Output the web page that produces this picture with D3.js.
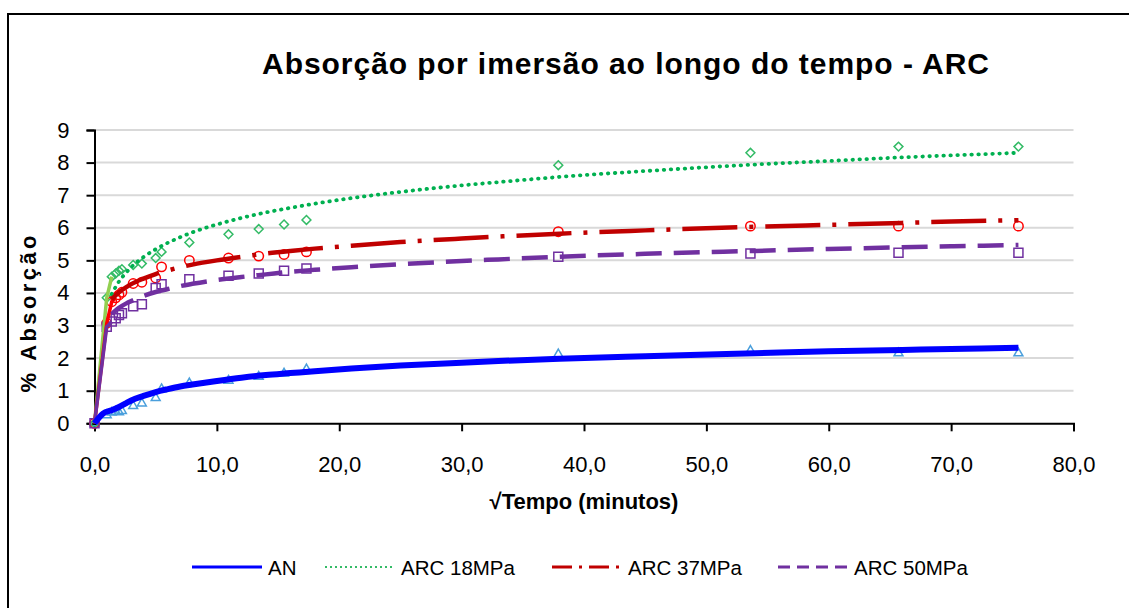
<!DOCTYPE html>
<html><head><meta charset="utf-8">
<script src="https://cdn.jsdelivr.net/npm/d3@7"></script>
<style>body{margin:0;background:#fff;} svg{display:block;font-family:"Liberation Sans",Arial,sans-serif;}</style>
</head><body>
<svg id="c" width="1129" height="608"></svg>
<script>
// ---- data ----
const title = "Absorção por imersão ao longo do tempo - ARC";
const xLabel = "√Tempo (minutos)";
const yLabel = "% Absorção";
const seriesNames = ["AN", "ARC 18MPa", "ARC 37MPa", "ARC 50MPa"];
const xTicks = [0, 10, 20, 30, 40, 50, 60, 70, 80];
const yTicks = [0, 1, 2, 3, 4, 5, 6, 7, 8, 9];

// measured points (x = sqrt of time in minutes)
const markerX = [0, 1, 1.41, 1.73, 2, 2.24, 3.16, 3.87, 5, 5.48, 7.75, 10.95, 13.42, 15.49, 17.32, 37.9, 53.6, 65.7, 75.5];
const anVals    = [0, 0.25, 0.33, 0.36, 0.34, 0.38, 0.53, 0.61, 0.78, 1.05, 1.23, 1.31, 1.43, 1.53, 1.66, 2.12, 2.23, 2.15, 2.15];
const arc18Vals = [0, 3.85, 4.5, 4.6, 4.68, 4.73, 4.86, 4.9, 5.07, 5.26, 5.55, 5.8, 5.96, 6.1, 6.24, 7.92, 8.3, 8.49, 8.49];
const arc37Vals = [0, 3.07, 3.73, 3.85, 3.94, 4.02, 4.29, 4.33, 4.46, 4.8, 5.0, 5.07, 5.13, 5.18, 5.26, 5.88, 6.05, 6.05, 6.05];
const arc50Vals = [0, 2.96, 3.12, 3.22, 3.32, 3.38, 3.59, 3.65, 4.15, 4.27, 4.42, 4.53, 4.6, 4.68, 4.75, 5.11, 5.21, 5.23, 5.23];

// trend curves
const fitX     = [0, 0.7, 1.4, 2, 2.6, 3, 4, 5, 6, 7, 8, 10, 12, 14, 16, 18, 21, 25, 30, 33, 38, 45, 54, 60, 66, 70, 75.5];
const anFit    = [0, 0.3, 0.4, 0.5, 0.62, 0.7, 0.84, 0.96, 1.05, 1.13, 1.19, 1.3, 1.4, 1.48, 1.54, 1.6, 1.68, 1.77, 1.86, 1.91, 1.98, 2.06, 2.15, 2.21, 2.25, 2.28, 2.32];
const arc18Fit = [null, null, 3.96, 4.35, 4.63, 4.79, 5.1, 5.34, 5.54, 5.71, 5.86, 6.1, 6.3, 6.47, 6.61, 6.74, 6.91, 7.1, 7.3, 7.4, 7.56, 7.74, 7.94, 8.05, 8.16, 8.22, 8.3];
const arc37Fit = [null, null, 3.8, 4.02, 4.18, 4.27, 4.44, 4.58, 4.69, 4.79, 4.87, 5.0, 5.11, 5.21, 5.29, 5.36, 5.45, 5.56, 5.67, 5.73, 5.82, 5.92, 6.03, 6.09, 6.15, 6.19, 6.23];
const arc50Fit = [null, null, 3.35, 3.54, 3.68, 3.75, 3.91, 4.03, 4.12, 4.21, 4.28, 4.4, 4.49, 4.57, 4.65, 4.71, 4.79, 4.88, 4.98, 5.03, 5.11, 5.2, 5.29, 5.35, 5.4, 5.43, 5.47];

// ---- styles ----
const series = [
  {name: seriesNames[0], vals: anVals, fit: anFit, early: 0, mk: "#4a9fdc", sym: d3.symbolTriangle, size: 34,
   line: "#0000ff", lw: 6, dash: null, lgw: 3, lgdash: null, lgcol: "#0000ff", earlyCol: "#0000ff"},
  {name: seriesNames[1], vals: arc18Vals, fit: arc18Fit, early: 3, mk: "#33bb66", sym: d3.symbolDiamond2, size: 50,
   line: "#00b050", lw: 3.8, dash: "0.5,6.5", cap: "round", lgw: 2, lgdash: "2,3", lgcol: "#33bb66", earlyCol: "#92d050"},
  {name: seriesNames[2], vals: arc37Vals, fit: arc37Fit, early: 4, mk: "#ff0000", sym: d3.symbolCircle, size: 70,
   line: "#c00000", lw: 4.5, dash: "55,12,4,12", lgw: 3, lgdash: "20,7,3,7", lgcol: "#c00000", earlyCol: "#ff0000"},
  {name: seriesNames[3], vals: arc50Vals, fit: arc50Fit, early: 3, mk: "#7030a0", sym: d3.symbolSquare, size: 81,
   line: "#7030a0", lw: 4.5, dash: "26,12", lgw: 3, lgdash: "12,7", lgcol: "#7030a0", earlyCol: "#7030a0"}
];

const svg = d3.select("#c");
const W = 1129, H = 608;
const x = d3.scaleLinear().domain([0, 80]).range([94.5, 1073.5]);
const y = d3.scaleLinear().domain([0, 9]).range([423.3, 130]);

// border
svg.append("rect").attr("x", 8).attr("y", 14).attr("width", W + 20).attr("height", H + 20)
  .attr("fill", "none").attr("stroke", "#000").attr("stroke-width", 2);

// title
svg.append("text").attr("x", 625.5).attr("y", 74).attr("text-anchor", "middle")
  .attr("font-size", 30).attr("font-weight", "bold").attr("textLength", 727).attr("lengthAdjust", "spacing")
  .text(title);

// gridlines
svg.append("g").selectAll("line").data(yTicks.filter(d => d > 0)).join("line")
  .attr("x1", x(0)).attr("x2", x(80)).attr("y1", d => y(d)).attr("y2", d => y(d))
  .attr("stroke", "#d9d9d9").attr("stroke-width", 2);

// axes
const yAxis = d3.axisLeft(y).tickValues(yTicks).tickSize(8).tickPadding(17).tickFormat(d3.format("d"));
const gy = svg.append("g").attr("transform", `translate(${x(0)},0)`).call(yAxis);
const xAxis = d3.axisBottom(x).tickValues(xTicks).tickSize(8).tickPadding(25).tickFormat(d => d.toFixed(1).replace(".", ","));
const gx = svg.append("g").attr("transform", `translate(0,${y(0)})`).call(xAxis);
[gx, gy].forEach(g => {
  g.select(".domain").attr("stroke", "#000").attr("stroke-width", 2);
  g.selectAll(".tick line").attr("stroke", "#000").attr("stroke-width", 2);
  g.selectAll(".tick text").attr("font-size", 22).attr("fill", "#000")
    .attr("font-family", "Liberation Sans, Arial, sans-serif");
});

// axis labels
svg.append("text").attr("x", x(40)).attr("y", 509).attr("text-anchor", "middle")
  .attr("font-size", 22).attr("font-weight", "bold").text(xLabel);
svg.append("text").attr("transform", "translate(36,314) rotate(-90)").attr("text-anchor", "middle")
  .attr("font-size", 22).attr("font-weight", "bold").attr("textLength", 157).attr("lengthAdjust", "spacing")
  .text(yLabel);

// markers
series.forEach(s => {
  svg.append("g").selectAll("path").data(markerX.map((xv, i) => [xv, s.vals[i]])).join("path")
    .attr("d", d3.symbol().type(s.sym).size(s.size))
    .attr("transform", d => `translate(${x(d[0])},${y(d[1])})`)
    .attr("fill", "none").attr("stroke", s.mk).attr("stroke-width", 1.5);
});

// early measured segments
series.forEach(s => {
  if (!s.early) return;
  const pts = markerX.slice(0, s.early).map((xv, i) => [xv, s.vals[i]]);
  svg.append("path").datum(pts)
    .attr("d", d3.line().x(d => x(d[0])).y(d => y(d[1])))
    .attr("fill", "none").attr("stroke", s.earlyCol).attr("stroke-width", 3.5);
});

// trend curves
series.forEach(s => {
  const pts = fitX.map((xv, i) => [xv, s.fit[i]]);
  svg.append("path").datum(pts)
    .attr("d", d3.line().defined(d => d[1] != null).curve(d3.curveMonotoneX).x(d => x(d[0])).y(d => y(d[1])))
    .attr("fill", "none").attr("stroke", s.line).attr("stroke-width", s.lw)
    .attr("stroke-dasharray", s.dash).attr("stroke-linecap", s.cap || "butt");
});

// legend
const legX = [192, 325, 552, 778];
const lg = svg.append("g");
series.forEach((s, i) => {
  lg.append("line").attr("x1", legX[i]).attr("x2", legX[i] + 70).attr("y1", 567).attr("y2", 567)
    .attr("stroke", s.lgcol).attr("stroke-width", s.lgw).attr("stroke-dasharray", s.lgdash);
  lg.append("text").attr("x", legX[i] + 76).attr("y", 574.5).attr("font-size", 20.5).text(s.name);
});
</script>
</body></html>
